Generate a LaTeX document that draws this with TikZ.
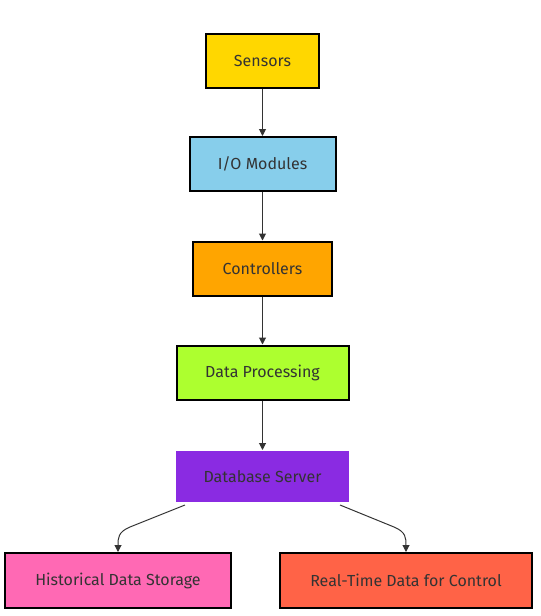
\documentclass[tikz,border=0pt]{standalone}
\usepackage{fontspec}
\setmainfont{Fira Sans}
\usetikzlibrary{arrows.meta}
\definecolor{txt}{HTML}{333333}
\definecolor{cSens}{HTML}{FFD700}
\definecolor{cIO}{HTML}{87CEEB}
\definecolor{cCtrl}{HTML}{FFA500}
\definecolor{cProc}{HTML}{ADFF2F}
\definecolor{cDB}{HTML}{8A2BE2}
\definecolor{cHist}{HTML}{FF69B4}
\definecolor{cRT}{HTML}{FF6347}
\begin{document}
\begin{tikzpicture}[x=1pt,y=-1pt,
  box/.style={draw=black,line width=2pt,inner sep=0pt,text=txt,font=\fontsize{16}{18}\selectfont},
  conn/.style={draw=txt,line width=1pt,-{Triangle[length=7pt,width=7pt]}}]
\useasboundingbox (0,0) rectangle (541,616);
\node[box,fill=cSens,minimum width=113pt,minimum height=54pt] (sens) at (262.5,61) {Sensors};
\node[box,fill=cIO,minimum width=146pt,minimum height=54pt] (io) at (262.5,164) {I/O Modules};
\node[box,fill=cCtrl,minimum width=139pt,minimum height=54pt] (ctrl) at (262.5,268.5) {Controllers};
\node[box,fill=cProc,minimum width=172pt,minimum height=54pt] (proc) at (262.5,372.5) {Data Processing};
\node[box,draw=none,fill=cDB,minimum width=173pt,minimum height=51pt] (db) at (262.5,476.5) {Database Server};
\node[box,fill=cHist,minimum width=226pt,minimum height=55pt] (hist) at (118,580.5) {Historical Data Storage};
\node[box,fill=cRT,minimum width=252pt,minimum height=55pt] (rt) at (406,580.5) {Real-Time Data for Control};
\draw[conn] (sens) -- (io);
\draw[conn] (io) -- (ctrl);
\draw[conn] (ctrl) -- (proc);
\draw[conn] (proc) -- (db);
\coordinate (dbl) at (185,505);
\coordinate (dbr) at (340,505);
\draw[conn] (dbl) -- (130,527) .. controls (118,532) and (118,538) .. (hist.north);
\draw[conn] (dbr) -- (394,527) .. controls (406,532) and (406,538) .. (rt.north);
\end{tikzpicture}
\end{document}
